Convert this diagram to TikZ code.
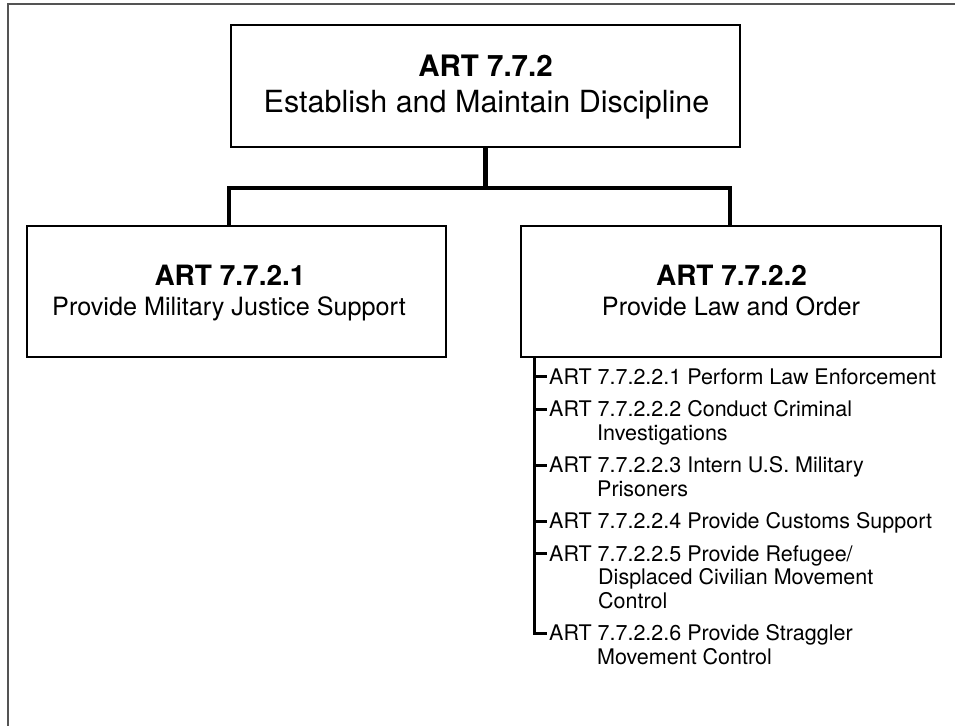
\documentclass[tikz,border=0pt]{standalone}
\usepackage{fontspec}
\setmainfont{TeX Gyre Heros}
\begin{document}
\begin{tikzpicture}[x=1pt,y=-1pt,
  box/.style={draw=black,line width=2pt,rectangle,inner sep=0pt},
  conn/.style={draw=black,line width=4.5pt},
  ticky/.style={draw=black,line width=3pt},
  frame/.style={draw=black!67,line width=2pt},
  toptitle/.style={anchor=base,inner sep=0pt,font=\fontsize{29.5}{33}\selectfont\bfseries},
  topsub/.style={anchor=base,inner sep=0pt,font=\fontsize{30.5}{34}\selectfont},
  title/.style={anchor=base,inner sep=0pt,font=\fontsize{28}{32}\selectfont\bfseries},
  sub/.style={anchor=base,inner sep=0pt,font=\fontsize{25.2}{29}\selectfont},
  item/.style={anchor=base west,inner sep=0pt,text height=15pt,text depth=0pt,font=\fontsize{21.5}{24}\selectfont},
  cont/.style={anchor=base west,inner sep=0pt,font=\fontsize{21.5}{24}\selectfont}]
\useasboundingbox (0,0) rectangle (955,725);
\fill[white] (0,0) rectangle (955,725);
% outer frame
\draw[frame] (956,4.5) -- (7.5,4.5) -- (7.5,726);
% boxes
\node[box,minimum width=509pt,minimum height=122pt] (top) at (485.5,86) {};
\node[box,minimum width=419pt,minimum height=131pt] (left) at (236.5,291.5) {};
\node[box,minimum width=420pt,minimum height=131pt] (right) at (731,291.5) {};
% box texts
\node[toptitle] (topA) at (485.5,77) {ART 7.7.2};
\node[topsub] (topB) at (486.5,112) {Establish and Maintain Discipline};
\node[title] (leftA) at (230,285) {ART 7.7.2.1};
\node[sub] (leftB) at (229,315) {Provide Military Justice Support};
\node[title] (rightA) at (731.5,285) {ART 7.7.2.2};
\node[sub] (rightB) at (731,315) {Provide Law and Order};
% connectors
\coordinate (j) at (485.5,188);
\coordinate (lj) at (229,188);
\coordinate (rj) at (730,188);
\draw[conn] (top.south) -- (j);
\draw[conn,line cap=rect] (lj) -- (rj);
\draw[conn] (lj) -- (left.north -| lj);
\draw[conn] (rj) -- (right.north -| rj);
% list
\node[item] (i1) at (549,384) {ART 7.7.2.2.1 Perform Law Enforcement};
\node[item] (i2) at (549,416.5) {ART 7.7.2.2.2 Conduct Criminal};
\node[cont] (i2b) at (597,440) {Investigations};
\node[item] (i3) at (549,472.5) {ART 7.7.2.2.3 Intern U.S. Military};
\node[cont] (i3b) at (597,496) {Prisoners};
\node[item] (i4) at (549,528.5) {ART 7.7.2.2.4 Provide Customs Support};
\node[item] (i5) at (549,561) {ART 7.7.2.2.5 Provide Refugee/};
\node[cont] (i5b) at (598,584.5) {Displaced Civilian Movement};
\node[cont] (i5c) at (598,608) {Control};
\node[item] (i6) at (549,640.5) {ART 7.7.2.2.6 Provide Straggler};
\node[cont] (i6b) at (597,664) {Movement Control};
\coordinate (v) at (534,0);
\draw[ticky] (right.south -| v) |- ([xshift=-2pt]i6.west);
\foreach \n in {i1,i2,i3,i4,i5}{
  \draw[ticky] (\n.west -| v) -- ([xshift=-2pt]\n.west);
}
\end{tikzpicture}
\end{document}
